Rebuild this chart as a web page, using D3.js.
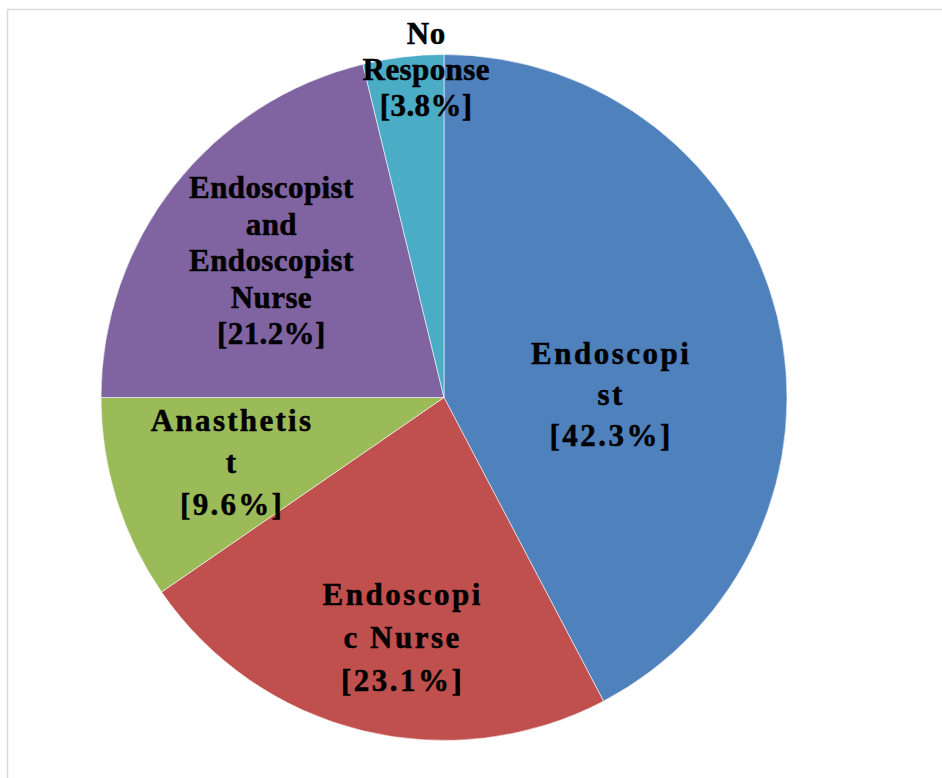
<!DOCTYPE html>
<html>
<head>
<meta charset="utf-8">
<script src="https://cdn.jsdelivr.net/npm/d3@7"></script>
<style>
  body { margin: 0; background: #fff; }
  svg { display: block; }
</style>
</head>
<body>
<svg id="chart" width="942" height="778"></svg>
<script>
// slice data, clockwise from 12 o'clock
var categories = ["Endoscopist", "Endoscopic Nurse", "Anasthetist", "Endoscopist and Endoscopist Nurse", "No Response"];
var values = [42.3, 23.1, 9.6, 21.2, 3.8];
var colors = ["#4F81BD", "#C0504D", "#9BBB59", "#8064A2", "#4BACC6"];

// label text, wrapped like the original
var labelLines = [
    ["Endoscopi", "st", "[42.3%]"],
    ["Endoscopi", "c Nurse", "[23.1%]"],
    ["Anasthetis", "t", "[9.6%]"],
    ["Endoscopist", "and", "Endoscopist", "Nurse", "[21.2%]"],
    ["No", "Response", "[3.8%]"]
];

// label layout: radius fraction, pixel nudge, line height, letter spacing
var labelK = [0.49, 0.71, 0.65, 0.64, 0.95];
var labelNudge = [[4, 38], [17, 4], [1, -1], [0, -1], [21, -4]];
var labelLH = [41, 43, 42, 36.5, 36];
var labelLS = [2.5, 2.5, 2.3, 0.4, 0.4];

var svg = d3.select("#chart");
var cx = 444, cy = 397.5, R = 343;

// chart frame (right and bottom edges fall outside the window)
svg.append("rect")
    .attr("x", 7.5)
    .attr("y", 9.5)
    .attr("width", 1000)
    .attr("height", 1000)
    .attr("fill", "none")
    .attr("stroke", "#d9d9d9")
    .attr("stroke-width", 1.5);

var pie = d3.pie().sort(null).value(function(d) { return d; });
var arcs = pie(values);

var arc = d3.arc().innerRadius(0).outerRadius(R);

var g = svg.append("g").attr("transform", "translate(" + cx + "," + cy + ")");

g.selectAll("path.slice")
    .data(arcs)
    .enter()
    .append("path")
        .attr("class", "slice")
        .attr("d", arc)
        .attr("fill", function(d, i) { return colors[i]; })
        .attr("stroke", "rgba(255,255,255,0.7)")
        .attr("stroke-width", 0.8);

// labels
var fontSize = 31;
arcs.forEach(function(d, i) {
    var r = R * labelK[i];
    var c = d3.arc().innerRadius(r).outerRadius(r).centroid(d);
    var x = c[0] + labelNudge[i][0];
    var y = c[1] + labelNudge[i][1];
    var lines = labelLines[i];
    var n = lines.length;

    var t = g.append("text")
        .attr("text-anchor", "middle")
        .style("font-family", "'Liberation Serif', 'Times New Roman', serif")
        .style("font-weight", "bold")
        .style("font-size", fontSize + "px")
        .attr("letter-spacing", labelLS[i])
        .attr("fill", "#000")
        .attr("stroke", "#000")
        .attr("stroke-width", 0.5);

    lines.forEach(function(line, j) {
        t.append("tspan")
            .attr("x", x)
            .attr("y", y + (j - (n - 1) / 2) * labelLH[i] + fontSize * 0.33)
            .text(line);
    });
});
</script>
</body>
</html>
